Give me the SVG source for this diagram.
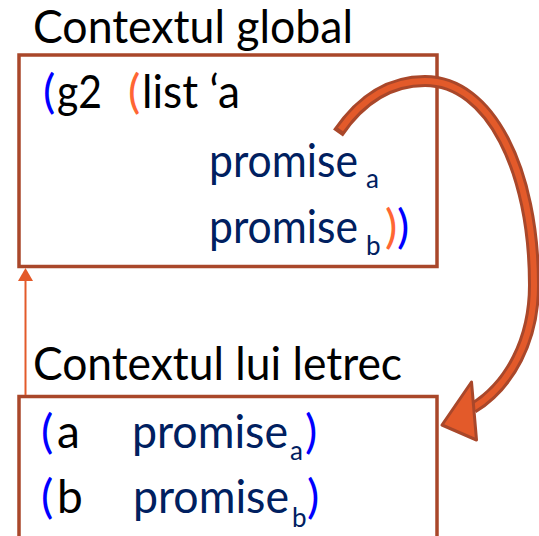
<svg xmlns="http://www.w3.org/2000/svg" width="539" height="536" viewBox="0 0 539 536">
<style>
.t{font-family:Lato,"Open Sans","Noto Sans",sans-serif;font-size:46px;fill:#000}
.s{font-size:26px;fill:#002060}
.bl{fill:#0000ff}.or{fill:#ff6633}.nv{fill:#002060}
.box{fill:#fff;stroke:#a9472a;stroke-width:3.5}
</style>
<g id="global">
<text class="t" x="33" y="43" textLength="320" lengthAdjust="spacingAndGlyphs">Contextul global</text>
<rect class="box" x="19" y="55" width="418" height="211.5"/>
<text class="t" y="108"><tspan class="bl" x="43">(</tspan><tspan x="57" textLength="45" lengthAdjust="spacingAndGlyphs">g2</tspan><tspan class="or" x="128">(</tspan><tspan x="142" textLength="98" lengthAdjust="spacingAndGlyphs">list ‘a</tspan></text>
<text class="t nv" y="177"><tspan x="209" textLength="149" lengthAdjust="spacingAndGlyphs">promise</tspan><tspan class="s" x="366" dy="11">a</tspan></text>
<text class="t nv" y="243"><tspan x="209" textLength="149" lengthAdjust="spacingAndGlyphs">promise</tspan><tspan class="s" x="366" dy="12">b</tspan><tspan class="or" x="385" dy="-12">)</tspan><tspan class="bl" x="397">)</tspan></text>
</g>
<g id="letrec">
<text class="t" x="33" y="380" textLength="369" lengthAdjust="spacingAndGlyphs">Contextul lui letrec</text>
<rect class="box" x="19" y="396.5" width="418" height="160"/>
<text class="t" y="448"><tspan class="bl" x="41">(</tspan><tspan x="57">a</tspan><tspan class="nv" x="132" textLength="156" lengthAdjust="spacingAndGlyphs">promise</tspan><tspan class="s" x="290" dy="12">a</tspan><tspan class="bl" x="305" dy="-12">)</tspan></text>
<text class="t" y="513"><tspan class="bl" x="41">(</tspan><tspan x="57">b</tspan><tspan class="nv" x="133" textLength="156" lengthAdjust="spacingAndGlyphs">promise</tspan><tspan class="s" x="292" dy="14">b</tspan><tspan class="bl" x="307" dy="-14">)</tspan></text>
</g>
<g id="connectors">
<line x1="25.5" y1="395" x2="25.5" y2="279" stroke="#e35a2a" stroke-width="2"/>
<polygon points="25.5,268 18,281 33,281" fill="#e35a2a"/>
<path d="M338 133 C362 98 392 81 425 81 C490 81 534 170 534 285 C534 340 510 385 473 408" fill="none" stroke="#a9472a" stroke-width="12"/>
<path d="M340.5 129.5 C364 96 393 81 425 81 C490 81 534 170 534 285 C534 340 510 385 473 408" fill="none" stroke="#e35a2a" stroke-width="6"/>
<polygon points="442,425 471.5,382 476.5,440" fill="#e35a2a" stroke="#a9472a" stroke-width="3" stroke-linejoin="round"/>
</g>
</svg>
